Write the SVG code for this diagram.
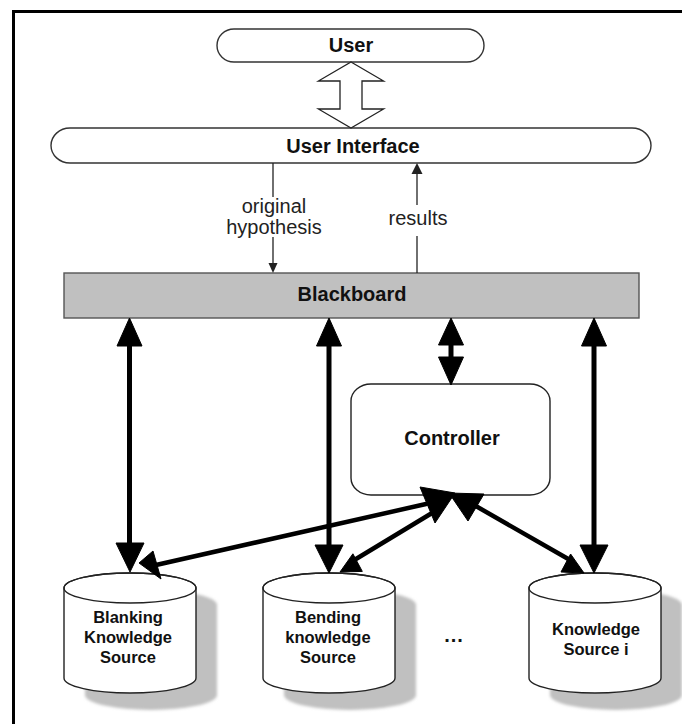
<svg xmlns="http://www.w3.org/2000/svg" width="682" height="724" viewBox="0 0 682 724">
<defs>
<style>
.pill{fill:#fff;stroke:#333;stroke-width:1.4}
.lbl{font-family:"Liberation Sans",Arial,sans-serif;font-weight:bold;font-size:20px;fill:#111;text-anchor:middle}
.reg{font-family:"Liberation Sans",Arial,sans-serif;font-size:20px;fill:#222;text-anchor:middle}
.cyl{font-family:"Liberation Sans",Arial,sans-serif;font-weight:bold;font-size:16.5px;fill:#111;text-anchor:middle}
.thin{stroke:#222;stroke-width:1.3;fill:none}
.thick{stroke:#000;stroke-width:5;fill:none}
.diag{stroke:#000;stroke-width:4.5;fill:none;stroke-linecap:round}
.head{fill:#000;stroke:#000;stroke-width:1;stroke-linejoin:round}
.body{fill:#fff;stroke:#222;stroke-width:1.4}
.shadow{fill:#c0c0c0}
</style>
<filter id="blur" x="-20%" y="-20%" width="140%" height="140%"><feGaussianBlur stdDeviation="1.6"/></filter>
<path id="cylbody" d="M-66,588 A66,15 0 0 1 66,588 L66,678 A66,15 0 0 1 -66,678 Z"/>
</defs>
<rect width="682" height="724" fill="#fff"/>
<rect x="13.5" y="11.5" width="700" height="800" fill="none" stroke="#000" stroke-width="3"/>

<g id="user">
<rect class="pill" x="217" y="29" width="267" height="33" rx="17" ry="16.5"/>
<text class="lbl" x="351" y="52">User</text>
</g>

<g id="user-interface">
<rect class="pill" x="51" y="128" width="600" height="35" rx="19" ry="17.5"/>
<text class="lbl" x="353" y="153">User Interface</text>
</g>

<g id="blackboard">
<rect x="64" y="273" width="575" height="45" fill="#c0c0c0" stroke="#555" stroke-width="1.4"/>
<text class="lbl" x="352" y="301">Blackboard</text>
</g>

<g id="controller">
<rect x="351" y="384" width="199" height="111" rx="20" ry="17" fill="#fff" stroke="#222" stroke-width="1.4"/>
<text class="lbl" x="452" y="445">Controller</text>
</g>

<g id="blanking-ks">
<use href="#cylbody" class="shadow" transform="translate(151,17)" filter="url(#blur)"/>
<use href="#cylbody" class="body" transform="translate(130,0)"/>
<ellipse cx="130" cy="588" rx="66" ry="15" fill="none" stroke="#222" stroke-width="1.4"/>
<text class="cyl" x="128" y="623">Blanking</text>
<text class="cyl" x="128" y="643">Knowledge</text>
<text class="cyl" x="128" y="663">Source</text>
</g>

<g id="bending-ks">
<use href="#cylbody" class="shadow" transform="translate(350,17)" filter="url(#blur)"/>
<use href="#cylbody" class="body" transform="translate(329,0)"/>
<ellipse cx="329" cy="588" rx="66" ry="15" fill="none" stroke="#222" stroke-width="1.4"/>
<text class="cyl" x="328" y="623">Bending</text>
<text class="cyl" x="328" y="643">knowledge</text>
<text class="cyl" x="328" y="663">Source</text>
</g>

<g id="ellipsis">
<text class="lbl" x="454" y="642" font-size="26" letter-spacing="1">...</text>
</g>

<g id="knowledge-source-i">
<use href="#cylbody" class="shadow" transform="translate(616,17)" filter="url(#blur)"/>
<use href="#cylbody" class="body" transform="translate(595,0)"/>
<ellipse cx="595" cy="588" rx="66" ry="15" fill="none" stroke="#222" stroke-width="1.4"/>
<text class="cyl" x="596" y="635">Knowledge</text>
<text class="cyl" x="596" y="655">Source i</text>
</g>

<g id="connectors">
<!-- hollow double arrow User <-> User Interface -->
<polygon points="351,62 383.6,81 362,81 362,109 383.6,109 351,128 318.4,109 340,109 340,81 318.4,81" fill="#fff" stroke="#222" stroke-width="1.3" stroke-linejoin="miter"/>
<!-- original hypothesis -->
<line class="thin" x1="273" y1="163" x2="273" y2="197"/>
<line class="thin" x1="273" y1="237" x2="273" y2="264"/>
<polygon points="268.5,263 277.5,263 273,273" fill="#222"/>
<text class="reg" x="274" y="213">original</text>
<text class="reg" x="274" y="234">hypothesis</text>
<!-- results -->
<line class="thin" x1="417" y1="273" x2="417" y2="236"/>
<line class="thin" x1="417" y1="205" x2="417" y2="172"/>
<polygon points="411.5,174 422.5,174 417,163" fill="#222"/>
<text class="reg" x="418" y="225">results</text>

<!-- Blackboard <-> Blanking -->
<line class="thick" x1="129.5" y1="344" x2="129.5" y2="545"/>
<polygon class="head" points="129.5,318 117,346 142,346"/>
<polygon class="head" points="130,572 116,543 144,543"/>
<!-- Blackboard <-> Bending -->
<line class="thick" x1="329" y1="344" x2="329" y2="546"/>
<polygon class="head" points="329,318 316.5,346 341.5,346"/>
<polygon class="head" points="329,573 315,545 343,545"/>
<!-- Blackboard <-> Controller -->
<line class="thick" x1="451" y1="343" x2="451" y2="359"/>
<polygon class="head" points="451,318 438.5,345 463.5,345"/>
<polygon class="head" points="451,385 438.5,357 463.5,357"/>
<!-- Blackboard <-> Knowledge Source i -->
<line class="thick" x1="594" y1="344" x2="594" y2="546"/>
<polygon class="head" points="594,318 581.5,346 606.5,346"/>
<polygon class="head" points="594,573 580,545 608,545"/>

<!-- Controller <-> Blanking -->
<line class="diag" x1="156" y1="565" x2="426" y2="504"/>
<polygon class="head" points="139,563 153,551 161,579"/>
<!-- Controller <-> Bending -->
<line class="diag" x1="356" y1="559" x2="437" y2="510"/>
<polygon class="head" points="340,572 362.3,571.4 352.9,553.8"/>
<!-- Controller <-> Knowledge Source i -->
<line class="diag" x1="474" y1="505" x2="570" y2="560"/>
<polygon class="head" points="584,573 561,572 570.6,554"/>
<!-- heads at Controller -->
<polygon class="head" points="420,487 455,493 435,523"/>
<polygon class="head" points="449,493 484,494 468,521"/>
</g>
</svg>
